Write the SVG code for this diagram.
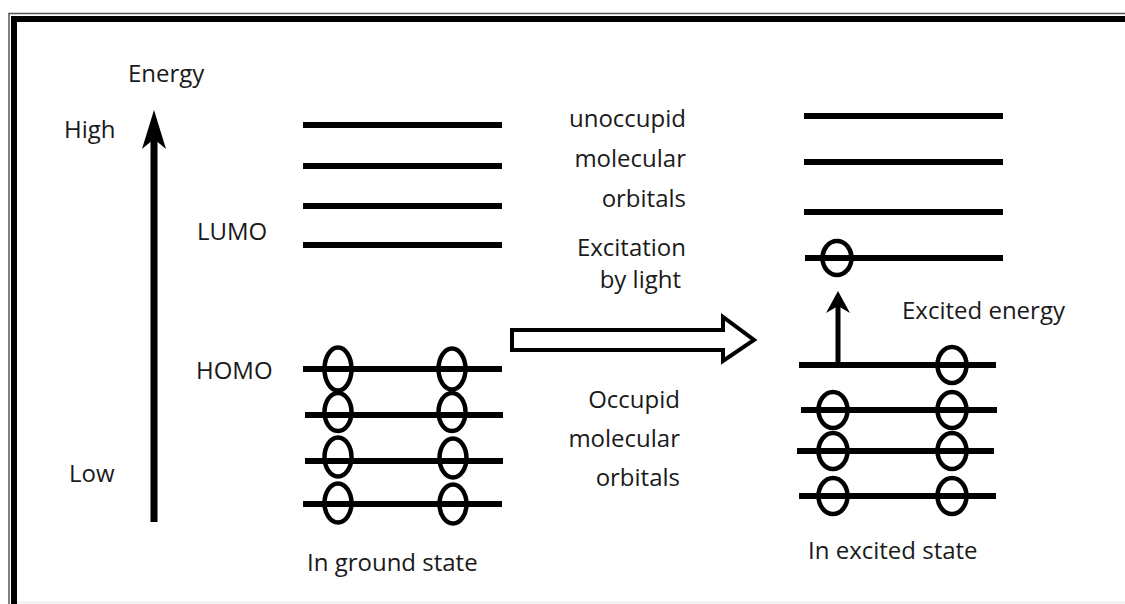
<svg xmlns="http://www.w3.org/2000/svg" width="1125" height="604" viewBox="0 0 1125 604">
  <defs>
    <style>
      .lvl { stroke: #000; stroke-width: 6; fill: none; }
      .e { fill: none; stroke: #000; stroke-width: 4.5; }
      .t { font-family: "Open Sans", "Liberation Sans", sans-serif; font-size: 24px; fill: #1a1a1a; }
      .r { text-anchor: end; }
    </style>
  </defs>
  <rect width="1125" height="604" fill="#fff"/>
  <g id="frame">
    <path d="M9 604 V13.5 H1125" fill="none" stroke="#555" stroke-width="1.5"/>
    <path d="M14 604 V19 H1125" fill="none" stroke="#000" stroke-width="6"/>
    <line x1="17" y1="602.5" x2="1125" y2="602.5" stroke="#eee" stroke-width="2"/>
  </g>

  <g id="energy-axis">
    <line x1="154" y1="522" x2="154" y2="136" stroke="#000" stroke-width="7"/>
    <polygon points="154,110 166,149 154,139 142,149" fill="#000"/>
    <text class="t" x="128" y="82">Energy</text>
    <text class="t" x="64" y="138">High</text>
    <text class="t" x="69" y="482">Low</text>
  </g>

  <g id="ground-state">
    <text class="t" x="197" y="240">LUMO</text>
    <text class="t" x="196" y="379">HOMO</text>
    <line class="lvl" x1="303" y1="125" x2="502" y2="125"/>
    <line class="lvl" x1="303" y1="166" x2="502" y2="166"/>
    <line class="lvl" x1="303" y1="206" x2="502" y2="206"/>
    <line class="lvl" x1="303" y1="245" x2="502" y2="245"/>
    <line class="lvl" x1="303" y1="369" x2="502" y2="369"/>
    <line class="lvl" x1="305" y1="415" x2="503" y2="415"/>
    <line class="lvl" x1="305" y1="461" x2="503" y2="461"/>
    <line class="lvl" x1="303" y1="504" x2="502" y2="504"/>
    <ellipse class="e" cx="338" cy="369" rx="13.5" ry="21.5"/>
    <ellipse class="e" cx="452" cy="369" rx="13.5" ry="20.5"/>
    <ellipse class="e" cx="338" cy="412" rx="13.5" ry="19"/>
    <ellipse class="e" cx="452" cy="412" rx="13.5" ry="19"/>
    <ellipse class="e" cx="338" cy="457" rx="13.5" ry="19.5"/>
    <ellipse class="e" cx="453" cy="458" rx="13.5" ry="19.5"/>
    <ellipse class="e" cx="338" cy="503" rx="13.5" ry="19.5"/>
    <ellipse class="e" cx="453" cy="504" rx="13.5" ry="19.5"/>
    <text class="t" x="307" y="571">In ground state</text>
  </g>

  <g id="labels">
    <text class="t r" x="686" y="127">unoccupid</text>
    <text class="t r" x="686" y="167">molecular</text>
    <text class="t r" x="686" y="207">orbitals</text>
    <text class="t r" x="686" y="256">Excitation</text>
    <text class="t r" x="681" y="288">by light</text>
    <text class="t r" x="680" y="408">Occupid</text>
    <text class="t r" x="680" y="447">molecular</text>
    <text class="t r" x="680" y="486">orbitals</text>
  </g>

  <g id="connectors">
    <polygon points="512,330 723,330 723,317 754,340 723,361 723,350 512,350" fill="#fff" stroke="#000" stroke-width="4" stroke-linejoin="miter"/>
    <line x1="838" y1="365" x2="838" y2="305" stroke="#000" stroke-width="5"/>
    <polygon points="838,291 850,313 838,306 826,313" fill="#000"/>
  </g>

  <g id="excited-state">
    <line class="lvl" x1="804" y1="116" x2="1003" y2="116"/>
    <line class="lvl" x1="804" y1="162" x2="1003" y2="162"/>
    <line class="lvl" x1="804" y1="212" x2="1003" y2="212"/>
    <line class="lvl" x1="805" y1="258" x2="1003" y2="258"/>
    <line class="lvl" x1="799" y1="365" x2="996" y2="365"/>
    <line class="lvl" x1="801" y1="410" x2="997" y2="410"/>
    <line class="lvl" x1="797" y1="451" x2="994" y2="451"/>
    <line class="lvl" x1="799" y1="496" x2="996" y2="496"/>
    <ellipse class="e" cx="837" cy="258" rx="14.5" ry="17"/>
    <ellipse class="e" cx="952" cy="365" rx="14.5" ry="18"/>
    <ellipse class="e" cx="833" cy="410" rx="14.5" ry="18"/>
    <ellipse class="e" cx="952" cy="410" rx="14.5" ry="18"/>
    <ellipse class="e" cx="833" cy="451" rx="14.5" ry="18"/>
    <ellipse class="e" cx="952" cy="451" rx="14.5" ry="18"/>
    <ellipse class="e" cx="833" cy="496" rx="14.5" ry="18"/>
    <ellipse class="e" cx="952" cy="496" rx="14.5" ry="18"/>
    <text class="t" x="902" y="319">Excited energy</text>
    <text class="t" x="808" y="559">In excited state</text>
  </g>
</svg>
